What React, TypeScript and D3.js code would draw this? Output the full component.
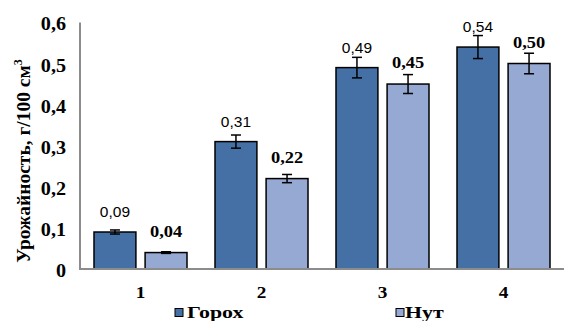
import React, { useRef, useEffect } from 'react';
import * as d3 from 'd3';

const categories = ['1', '2', '3', '4'];
const seriesNames = ['Горох', 'Нут'];
const goroh = [0.09, 0.31, 0.49, 0.54];
const nut = [0.04, 0.22, 0.45, 0.5];
const gorohErr = [0.005, 0.016, 0.025, 0.028];
const nutErr = [0.002, 0.01, 0.023, 0.025];
const gorohLabels = ['0,09', '0,31', '0,49', '0,54'];
const nutLabels = ['0,04', '0,22', '0,45', '0,50'];
const yTicks = [0, 0.1, 0.2, 0.3, 0.4, 0.5, 0.6];

const colors = ['#4470a6', '#95a9d3'];
const serif = '"Liberation Serif", "Times New Roman", serif';
const sans = '"Liberation Sans", Arial, sans-serif';

const App = () => {
  const svgRef = useRef<SVGSVGElement>(null);

  useEffect(() => {
    const width = 564;
    const height = 321;
    const svg = d3.select(svgRef.current);
    svg.selectAll('*').remove();
    svg.attr('width', width).attr('height', height);

    // text stretched horizontally like the source picture
    const stretched = (x: number, yy: number, sx: number) =>
      svg.append('text').attr('transform', `translate(${x},${yy}) scale(${sx},1)`);

    const x0 = d3.scaleBand().domain(categories).range([80, 564]);
    const x1 = d3.scaleBand().domain(seriesNames).range([14, x0.bandwidth() - 14]).paddingInner(0.18);
    const y = d3.scaleLinear().domain([0, 0.6]).range([269, 22.4]);

    const series = [
      { name: seriesNames[0], values: goroh, errs: gorohErr, labels: gorohLabels, bold: false },
      { name: seriesNames[1], values: nut, errs: nutErr, labels: nutLabels, bold: true },
    ];

    series.forEach((s, si) => {
      const g = svg.append('g');
      categories.forEach((c, i) => {
        const bx = x0(c)! + x1(s.name)!;
        const bw = x1.bandwidth();
        g.append('rect')
          .attr('x', bx)
          .attr('y', y(s.values[i]))
          .attr('width', bw)
          .attr('height', y(0) - y(s.values[i]))
          .attr('fill', colors[si])
          .attr('stroke', '#000')
          .attr('stroke-width', 1.5);
        const cx = bx + bw / 2;
        const top = y(s.values[i] + s.errs[i]);
        const bot = y(s.values[i] - s.errs[i]);
        g.append('line').attr('x1', cx).attr('x2', cx).attr('y1', top).attr('y2', bot)
          .attr('stroke', '#000').attr('stroke-width', 1.5);
        [top, bot].forEach(yy => {
          g.append('line').attr('x1', cx - 5).attr('x2', cx + 5).attr('y1', yy).attr('y2', yy)
            .attr('stroke', '#000').attr('stroke-width', 1.5);
        });
        if (s.bold) {
          stretched(cx, y(s.values[i]) - 16, 1.15)
            .attr('text-anchor', 'middle')
            .attr('font-family', serif)
            .attr('font-weight', 'bold')
            .attr('font-size', 16)
            .text(s.labels[i]);
        } else {
          svg.append('text')
            .attr('x', cx)
            .attr('y', y(s.values[i]) - 15)
            .attr('text-anchor', 'middle')
            .attr('font-family', sans)
            .attr('font-size', 15.5)
            .text(s.labels[i]);
        }
      });
    });

    // axes
    svg.append('line').attr('x1', 80).attr('x2', 80).attr('y1', y(0.6)).attr('y2', y(0))
      .attr('stroke', '#8c8c8c').attr('stroke-width', 2);
    svg.append('line').attr('x1', 79).attr('x2', 564).attr('y1', y(0)).attr('y2', y(0))
      .attr('stroke', '#8c8c8c').attr('stroke-width', 2);

    yTicks.forEach(t => {
      stretched(66, y(t) + 8, 1.12)
        .attr('text-anchor', 'end')
        .attr('font-family', serif)
        .attr('font-weight', 'bold')
        .attr('font-size', 18)
        .text(t === 0 ? '0' : d3.format('.1f')(t).replace('.', ','));
    });

    categories.forEach(c => {
      stretched(x0(c)! + x0.bandwidth() / 2, 298, 1.1)
        .attr('text-anchor', 'middle')
        .attr('font-family', serif)
        .attr('font-weight', 'bold')
        .attr('font-size', 17.5)
        .text(c);
    });

    // y title
    const title = svg.append('text')
      .attr('transform', 'translate(30,161) rotate(-90)')
      .attr('text-anchor', 'middle')
      .attr('font-family', serif)
      .attr('font-weight', 'bold')
      .attr('font-size', 19.5);
    title.append('tspan').text('Урожайность, г/100 см');
    title.append('tspan').attr('font-size', 12).attr('dy', -8).text('3');

    // legend
    const legendX = [175, 396];
    const legendText = [187, 405];
    seriesNames.forEach((n, i) => {
      svg.append('rect')
        .attr('x', legendX[i]).attr('y', 308.5).attr('width', 8).attr('height', 8)
        .attr('fill', colors[i]).attr('stroke', '#000').attr('stroke-width', 1);
      stretched(legendText[i], 318, 1.25)
        .attr('font-family', serif)
        .attr('font-weight', 'bold')
        .attr('font-size', 17.5)
        .text(n);
    });
  }, []);

  return <svg ref={svgRef} style={{ position: 'absolute', left: 0, top: 0, display: 'block' }}></svg>;
};

export default App;
